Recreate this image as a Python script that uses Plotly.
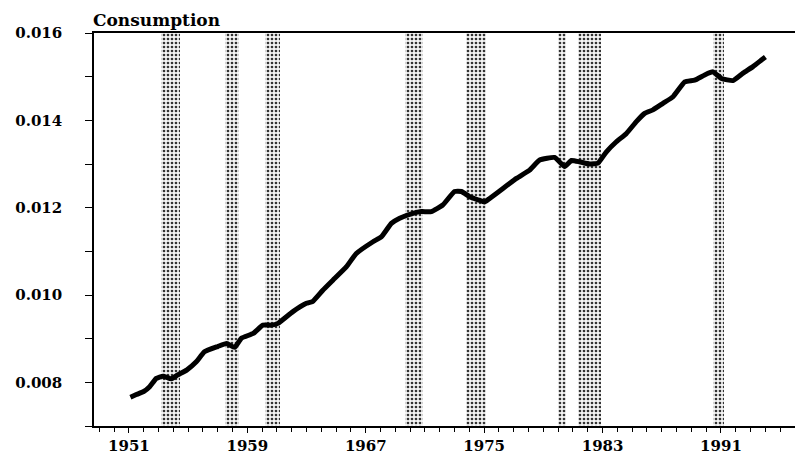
import plotly.graph_objects as go

# Consumption series
years = [1951.1, 1951.5, 1952.0, 1952.4, 1952.85, 1953.3, 1953.86, 1954.3, 1954.9,
         1955.55, 1956.1, 1957.0, 1957.6, 1958.14, 1958.6, 1959.4, 1960.05, 1960.6,
         1961.07, 1962.08, 1962.99, 1963.4, 1964.1, 1964.78, 1965.7, 1966.36, 1967.49,
         1968.05, 1968.73, 1969.29, 1970.19, 1970.76, 1971.43, 1972.2, 1973.0, 1973.46,
         1974.02, 1974.58, 1975.03, 1975.37, 1976.27, 1977.18, 1978.07, 1978.75, 1979.76,
         1980.44, 1980.9, 1981.45, 1982.13, 1982.69, 1983.26, 1983.93, 1984.61, 1985.28,
         1985.84, 1986.4, 1987.08, 1987.76, 1988.55, 1989.22, 1989.9, 1990.46, 1991.03,
         1991.81, 1992.49, 1993.16, 1993.73, 1994.0]
consumption = [0.00766, 0.00772, 0.00779, 0.00790, 0.00809, 0.00814, 0.00808, 0.00817, 0.00828,
               0.00847, 0.00870, 0.00882, 0.00889, 0.00880, 0.00901, 0.00912, 0.00931, 0.00931,
               0.00935, 0.00962, 0.00981, 0.00985, 0.01011, 0.01034, 0.01065, 0.01095, 0.01122,
               0.01133, 0.01164, 0.01176, 0.01187, 0.01191, 0.01191, 0.01206, 0.01237, 0.01237,
               0.01225, 0.01218, 0.01213, 0.01221, 0.01244, 0.01267, 0.01286, 0.01309, 0.01315,
               0.01294, 0.01308, 0.01305, 0.01300, 0.01302, 0.01328, 0.01351, 0.01370, 0.01397,
               0.01416, 0.01424, 0.01439, 0.01454, 0.01488, 0.01492, 0.01504, 0.01511, 0.01496,
               0.01491, 0.01508, 0.01523, 0.01538, 0.01545]

# Recession bands (start, end) in years
rec_start = [1953.2, 1957.47, 1960.22, 1969.63, 1973.8, 1979.99, 1981.34, 1990.46]
rec_end = [1954.43, 1958.43, 1961.23, 1970.86, 1975.15, 1980.55, 1982.92, 1991.18]

x_ticks = [1951, 1959, 1967, 1975, 1983, 1991]
y_ticks = [0.008, 0.010, 0.012, 0.014, 0.016]

y_lo, y_hi = 0.007, 0.016
x_lo, x_hi = 1948.64, 1996.0

FONT = "DejaVu Serif"

fig = go.Figure()

fig.add_trace(go.Bar(
    x=[(s + e) / 2 for s, e in zip(rec_start, rec_end)],
    width=[e - s for s, e in zip(rec_start, rec_end)],
    y=[y_hi - y_lo] * len(rec_start),
    base=[y_lo] * len(rec_start),
    marker=dict(
        color="rgba(0,0,0,0)",
        line=dict(width=0),
        pattern=dict(shape=".", fgcolor="#333333", bgcolor="#f4f4f4",
                     size=4, solidity=0.35, fillmode="replace"),
    ),
    hoverinfo="skip",
    showlegend=False,
))

fig.add_trace(go.Scatter(
    x=years, y=consumption, mode="lines",
    line=dict(color="black", width=5, shape="spline", smoothing=0.4),
    showlegend=False,
))

fig.update_layout(
    width=795, height=456,
    margin=dict(l=94, r=0, t=33, b=30),
    paper_bgcolor="white", plot_bgcolor="white",
    font=dict(family=FONT, color="black"),
    bargap=0,
    barmode="overlay",
    annotations=[dict(
        text="<b>Consumption</b>", xref="paper", yref="paper",
        x=0, y=1, xanchor="left", yanchor="bottom", yshift=1, xshift=-3,
        showarrow=False, font=dict(family=FONT, size=17, color="black"),
    )],
)

fig.update_xaxes(
    range=[x_lo, x_hi], showgrid=False, zeroline=False,
    showline=True, linecolor="black", linewidth=1.5, mirror=True,
    tickmode="array", tickvals=x_ticks, ticktext=[f"<b>{v}</b>" for v in x_ticks],
    ticks="outside", ticklen=5, tickwidth=1.3, tickcolor="black",
    tickfont=dict(family=FONT, size=15, color="black"),
    minor=dict(dtick=1, tick0=1951, ticks="outside", ticklen=4, tickwidth=1.2,
               tickcolor="black", showgrid=False),
)

fig.update_yaxes(
    range=[y_lo, y_hi], showgrid=False, zeroline=False,
    showline=True, linecolor="black", linewidth=1.5,
    tickmode="array", tickvals=y_ticks, ticktext=[f"<b>{v:.3f}</b>" for v in y_ticks],
    ticks="outside", ticklen=7, tickwidth=1.3, tickcolor="black",
    tickfont=dict(family=FONT, size=15, color="black"),
    ticklabelstandoff=20,
    minor=dict(dtick=0.001, tick0=0.007, ticks="outside", ticklen=7, tickwidth=1.2,
               tickcolor="black", showgrid=False),
)

fig.write_html("out.html")
